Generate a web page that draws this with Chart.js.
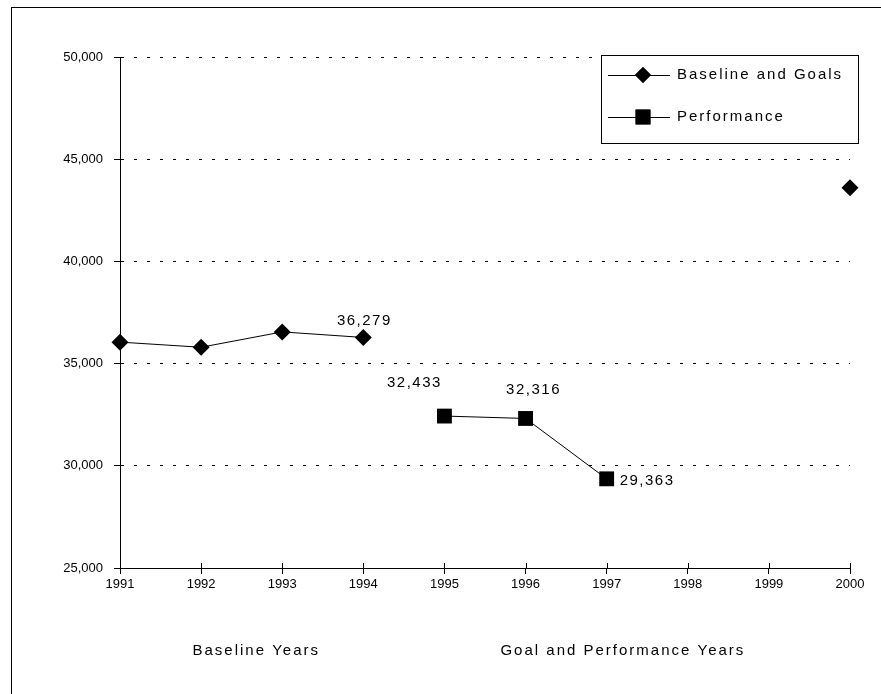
<!DOCTYPE html>
<html lang="en">
<head>
<meta charset="UTF-8">
<title>Baseline and Goals vs Performance</title>
<style>
    body {
        margin: 0;
        background: #ffffff;
    }
    .frame {
        position: absolute;
        left: 11px;
        top: 7px;
        width: 870px;
        height: 687px;
        border-left: 1px solid #000;
        border-top: 1px solid #000;
    }
    #chart {
        position: absolute;
        left: 0;
        top: 0;
    }
</style>
<script src="https://cdn.jsdelivr.net/npm/chart.js"></script>
</head>
<body>
<div class="frame"></div>
<canvas id="chart" width="881" height="694"></canvas>

<script>
    // data
    const years = ['1991', '1992', '1993', '1994', '1995', '1996', '1997', '1998', '1999', '2000'];
    const baselineGoals = [36050, 35800, 36550, 36279, null, null, null, null, null, 43600];
    const performance = [null, null, null, null, 32433, 32316, 29363, null, null, null];
    const yTicks = [25000, 30000, 35000, 40000, 45000, 50000];

    // labels shown next to some points: [dataset, index, text, dx, dy, align]
    const pointLabels = [
        [0, 3, '36,279', 1, -17, 'center'],
        [1, 4, '32,433', -30, -33, 'center'],
        [1, 5, '32,316', 8, -29, 'center'],
        [1, 6, '29,363', 13, 2, 'left']
    ];

    const FAMILY = '"Liberation Sans", Arial, sans-serif';
    const BIG = '15px ' + FAMILY;

    const extras = {
        id: 'extras',
        afterDraw(chart) {
            const ctx = chart.ctx;
            const x = chart.scales.x;
            const y = chart.scales.y;
            ctx.save();

            // upward tick marks on the x axis
            ctx.strokeStyle = '#000';
            ctx.lineWidth = 1;
            years.forEach((_, i) => {
                const px = Math.round(x.getPixelForValue(i)) + 0.5;
                ctx.beginPath();
                ctx.moveTo(px, y.bottom - 5);
                ctx.lineTo(px, y.bottom);
                ctx.stroke();
            });

            // value labels
            ctx.fillStyle = '#000';
            ctx.font = BIG;
            ctx.letterSpacing = '1.5px';
            ctx.textBaseline = 'middle';
            pointLabels.forEach(([ds, idx, text, dx, dy, align]) => {
                const pt = chart.getDatasetMeta(ds).data[idx];
                ctx.textAlign = align;
                ctx.fillText(text, pt.x + dx, pt.y + dy);
            });

            // group titles under the axis
            ctx.letterSpacing = '2px';
            const pos = v => x.left + (x.right - x.left) * v / (years.length - 1);
            ctx.textAlign = 'center';
            ctx.fillText('Baseline Years', pos(1.68), 651);
            ctx.fillText('Goal and Performance Years', pos(6.2), 651);

            // legend box
            ctx.fillStyle = '#fff';
            ctx.fillRect(601, 55, 257, 88);
            ctx.strokeRect(601.5, 55.5, 257, 88);
            const entries = [
                ['Baseline and Goals', 'rectRot', 8, 75],
                ['Performance', 'rect', 10.5, 117]
            ];
            entries.forEach(([label, style, r, ly]) => {
                ctx.beginPath();
                ctx.moveTo(608, ly + 0.5);
                ctx.lineTo(670, ly + 0.5);
                ctx.stroke();
                ctx.fillStyle = '#000';
                Chart.helpers.drawPoint(ctx, {pointStyle: style, radius: r, borderWidth: 0, rotation: 0}, 643, ly);
                ctx.fill();
                ctx.textAlign = 'left';
                ctx.fillText(label, 677, ly);
            });
            ctx.restore();
        }
    };

    new Chart(document.getElementById('chart'), {
        type: 'line',
        data: {
            labels: years,
            datasets: [
                {
                    label: 'Baseline and Goals',
                    data: baselineGoals,
                    borderColor: '#000',
                    backgroundColor: '#000',
                    borderWidth: 1,
                    pointStyle: 'rectRot',
                    pointRadius: 8.5,
                    pointBorderWidth: 0,
                    spanGaps: false,
                    clip: false
                },
                {
                    label: 'Performance',
                    data: performance,
                    borderColor: '#000',
                    backgroundColor: '#000',
                    borderWidth: 1,
                    pointStyle: 'rect',
                    pointRadius: 10.5,
                    pointBorderWidth: 0,
                    spanGaps: false,
                    clip: false
                }
            ]
        },
        options: {
            responsive: false,
            animation: false,
            events: [],
            layout: {
                padding: {left: 0, top: 57, right: 31, bottom: 0}
            },
            plugins: {
                legend: {display: false},
                tooltip: {enabled: false}
            },
            scales: {
                x: {
                    offset: false,
                    afterFit: s => { s.height = 126; },
                    border: {display: true, color: '#000', width: 1},
                    grid: {
                        drawOnChartArea: false,
                        color: '#000',
                        tickLength: 6
                    },
                    ticks: {
                        color: '#000',
                        font: {family: FAMILY, size: 13},
                        padding: 3,
                        maxRotation: 0,
                        autoSkip: false
                    }
                },
                y: {
                    min: 25000,
                    max: 50000,
                    afterFit: s => { s.width = 120; },
                    afterBuildTicks: s => { s.ticks = yTicks.map(v => ({value: v})); },
                    border: {display: true, color: '#000', width: 1, dash: [3, 10]},
                    grid: {
                        color: '#000',
                        lineWidth: 1,
                        tickLength: 6,
                        tickBorderDash: [],
                        tickColor: '#000'
                    },
                    ticks: {
                        color: '#000',
                        font: {family: FAMILY, size: 13},
                        padding: 11,
                        callback: v => v.toLocaleString('en-US')
                    }
                }
            }
        },
        plugins: [extras]
    });
</script>
</body>
</html>
